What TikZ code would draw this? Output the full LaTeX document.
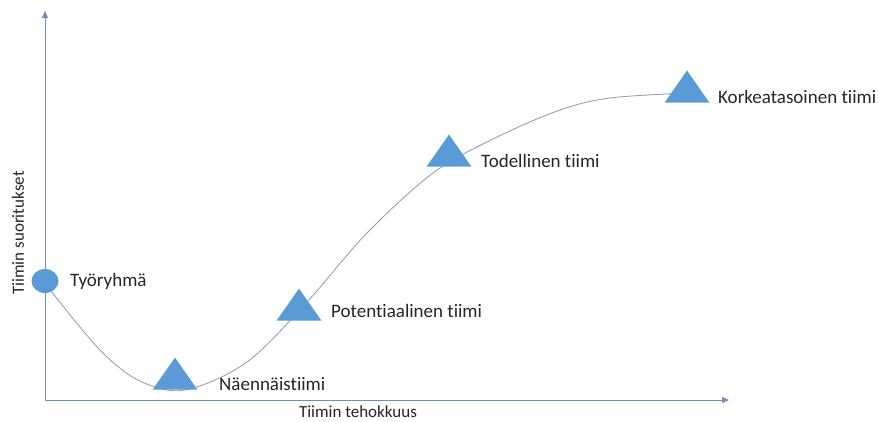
\documentclass[tikz,border=0pt]{standalone}
\usepackage{fontspec}
\setmainfont[RawFeature=-liga]{Carlito}
\usetikzlibrary{arrows.meta,shapes.geometric}
\definecolor{officeblue}{HTML}{5B9BD5}
\definecolor{axisblue}{HTML}{6F8FB8}
\definecolor{curvegray}{HTML}{8A9BB3}
\definecolor{labeltext}{HTML}{262626}
\tikzset{
  marker/.style={isosceles triangle, isosceles triangle apex angle=70, shape border rotate=90,
    fill=officeblue, draw=none, minimum width=45pt, minimum height=32pt, inner sep=0pt},
  stage/.style={font=\fontsize{19}{21}\selectfont, text=labeltext, anchor=west, inner sep=0pt},
  axistitle/.style={font=\fontsize{17}{19}\selectfont, text=labeltext, inner sep=0pt},
  axis/.style={draw=axisblue, line width=1pt, -{Triangle[length=7pt,width=6pt]}},
}
\begin{document}
\begin{tikzpicture}[x=1pt,y=-1pt]
  \useasboundingbox[fill=white] (0,0) rectangle (878,421);
  % axes
  \coordinate (origin) at (45,400);
  \coordinate (ytop) at (45,11);
  \coordinate (xend) at (729,400);
  \draw[axis] (origin) -- (ytop);
  \draw[axis] (origin) -- (xend);
  % axis titles
  \node[axistitle, rotate=90] (ylab) at (18,233) {Tiimin suoritukset};
  \node[axistitle] (xlab) at (358,412) {Tiimin tehokkuus};
  % development curve
  \draw[curvegray, line width=0.8pt] plot[smooth, tension=0.55] coordinates
    {(51,291) (100,350) (140,381) (185,390) (247,362) (307,302) (367,233) (433,173) (495,138) (560,110) (610,98) (687,93)};
  % stage markers
  \node[ellipse, fill=officeblue, minimum width=27pt, minimum height=24pt, inner sep=0pt] (s0) at (45,281) {};
  \node[marker] (s1) at (175,378) {};
  \node[marker] (s2) at (299,309) {};
  \node[marker] (s3) at (449,155) {};
  \node[marker] (s4) at (687,91) {};
  % stage labels
  \node[stage] (l0) at (70,281) {Työryhmä};
  \node[stage] (l1) at (219,384) {Näennäistiimi};
  \node[stage] (l2) at (331,311) {Potentiaalinen tiimi};
  \node[stage] (l3) at (481,161) {Todellinen tiimi};
  \node[stage] (l4) at (718,97) {Korkeatasoinen tiimi};
\end{tikzpicture}
\end{document}
